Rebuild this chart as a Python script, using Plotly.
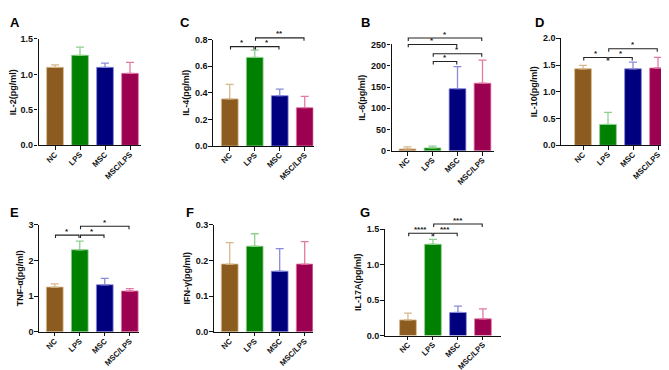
import plotly.graph_objects as go

W, H = 669, 370
groups = ["NC", "LPS", "MSC", "MSC/LPS"]
xpos = list(range(len(groups)))

il2_mean = [1.10, 1.27, 1.10, 1.015]
il2_err = [0.035, 0.115, 0.06, 0.155]
il4_mean = [0.354, 0.666, 0.378, 0.288]
il4_err = [0.109, 0.054, 0.049, 0.085]
il6_mean = [4.5, 7.0, 146.0, 159.0]
il6_err = [5.0, 4.0, 52.0, 54.0]
il10_mean = [1.43, 0.39, 1.43, 1.445]
il10_err = [0.065, 0.225, 0.125, 0.2]
tnf_mean = [1.255, 2.30, 1.32, 1.145]
tnf_err = [0.09, 0.245, 0.18, 0.065]
ifn_mean = [0.19, 0.24, 0.17, 0.19]
ifn_err = [0.06, 0.035, 0.063, 0.063]
il17_mean = [0.22, 1.285, 0.325, 0.235]
il17_err = [0.095, 0.07, 0.09, 0.14]

il2_ticks = [0, 0.5, 1.0, 1.5]
il4_ticks = [0, 0.2, 0.4, 0.6, 0.8]
il6_ticks = [0, 50, 100, 150, 200, 250]
il10_ticks = [0, 0.5, 1.0, 1.5, 2.0]
tnf_ticks = [0, 1, 2, 3]
ifn_ticks = [0, 0.1, 0.2, 0.3]
il17_ticks = [0, 0.5, 1.0, 1.5]

il2_sig = []
il4_sig = [(0, 1, 0.747, "*"), (1, 2, 0.747, "*"), (1, 3, 0.813, "**")]
il6_sig = [(0, 3, 265, "*"), (0, 2, 250, "*"), (1, 3, 228, "*"), (1, 2, 210, "*")]
il10_sig = [(0, 1, 1.64, "*"), (1, 2, 1.64, "*"), (1, 3, 1.805, "*")]
tnf_sig = [(0, 1, 2.71, "*"), (1, 2, 2.71, "*"), (1, 3, 2.96, "*")]
ifn_sig = []
il17_sig = [(0, 1, 1.44, "****"), (1, 2, 1.44, "***"), (1, 3, 1.57, "***")]

fill = ["#8B5B1F", "#008000", "#00007F", "#9C0050"]
light = ["#D8B98C", "#8FD08F", "#8A8ADA", "#E27AA6"]

FONT = "Liberation Sans, Arial, sans-serif"

# layout geometry per panel (pixels)
panels = [
    dict(letter="A", title="IL-2(pg/ml)", mean=il2_mean, err=il2_err, ticks=il2_ticks, fmt=".1f", sig=il2_sig,
         left=30.5, y0=136, ymp=26.7, xlo=-0.66, xhi=3.42, lx=0, ly=0),
    dict(letter="C", title="IL-4(pg/ml)", mean=il4_mean, err=il4_err, ticks=il4_ticks, fmt=".1f", sig=il4_sig,
         left=205, y0=136.7, ymp=27.3, xlo=-0.67, xhi=3.35, lx=170, ly=0),
    dict(letter="B", title="IL-6(pg/ml)", mean=il6_mean, err=il6_err, ticks=il6_ticks, fmt="d", sig=il6_sig,
         left=383.5, y0=141.7, ymp=32.3, xlo=-0.64, xhi=3.47, lx=351, ly=0),
    dict(letter="D", title="IL-10(pg/ml)", mean=il10_mean, err=il10_err, ticks=il10_ticks, fmt=".1f", sig=il10_sig,
         left=553, y0=136, ymp=26, xlo=-0.88, xhi=3.75, lx=525, ly=0),
    dict(letter="E", title="TNF-α(pg/ml)", mean=tnf_mean, err=tnf_err, ticks=tnf_ticks, fmt="d", sig=tnf_sig,
         left=31, y0=327.7, ymp=217.7, xlo=-0.63, xhi=3.38, lx=0, ly=195),
    dict(letter="F", title="IFN-γ(pg/ml)", mean=ifn_mean, err=ifn_err, ticks=ifn_ticks, fmt=".1f", sig=ifn_sig,
         left=205.7, y0=327.7, ymp=217.7, xlo=-0.64, xhi=3.32, lx=176, ly=195),
    dict(letter="G", title="IL-17A(pg/ml)", mean=il17_mean, err=il17_err, ticks=il17_ticks, fmt=".1f", sig=il17_sig,
         left=376.7, y0=331.5, ymp=222, xlo=-0.93, xhi=3.73, lx=350, ly=195),
]

PX_PER_CAT = 25.0

fig = go.Figure()
layout = dict(width=W, height=H, margin=dict(l=0, r=0, t=0, b=0),
              paper_bgcolor="white", plot_bgcolor="white", barmode="overlay",
              showlegend=False, font=dict(family=FONT, color="#111111"))
shapes = []
annotations = []

for n, p in enumerate(panels):
    sfx = "" if n == 0 else str(n + 1)
    xn, yn = "x" + sfx, "y" + sfx
    ymax = p["ticks"][-1]
    right = p["left"] + (p["xhi"] - p["xlo"]) * PX_PER_CAT
    layout["xaxis" + sfx] = dict(
        domain=[p["left"] / W, min(right / W, 1.0)], anchor=yn, range=[p["xlo"], p["xhi"]],
        tickmode="array", tickvals=xpos, ticktext=groups, tickangle=-45,
        tickfont=dict(family=FONT, size=7.8, weight="bold", color="#111111"),
        showline=True, linecolor="#111111", linewidth=1.3, ticks="outside", ticklen=3.5,
        tickwidth=1.3, tickcolor="#111111", ticklabelstandoff=-3,
        showgrid=False, zeroline=False, fixedrange=True)
    layout["yaxis" + sfx] = dict(
        domain=[1 - p["y0"] / H, 1 - p["ymp"] / H], anchor=xn, range=[0, ymax],
        tickmode="array", tickvals=p["ticks"], tickformat=p["fmt"],
        tickfont=dict(family=FONT, size=9, weight="bold", color="#111111"),
        showline=True, linecolor="#111111", linewidth=1.3,
        ticks="outside", ticklen=3.5, tickwidth=1.3, tickcolor="#111111",
        ticklabelstandoff=-1, showgrid=False, zeroline=False, fixedrange=True,
        title=dict(text=p["title"], standoff=3,
                   font=dict(family=FONT, size=9, weight="bold", color="#111111")))
    for k in xpos:
        fig.add_trace(go.Bar(
            x=[xpos[k]], y=[p["mean"][k]], width=0.67, xaxis=xn, yaxis=yn,
            marker=dict(color=fill[k], line=dict(color=light[k], width=0.8)),
            error_y=dict(type="data", symmetric=False, array=[p["err"][k]], arrayminus=[0],
                         color=light[k], thickness=1.3, width=4),
            showlegend=False, hoverinfo="skip"))
    # significance brackets (may sit above the top tick, so use the y-domain reference)
    leg = 3.0 / (p["y0"] - p["ymp"])
    for (i, j, yv, lab) in p["sig"]:
        a, b = i + 0.03, j - 0.03
        f = yv / ymax
        shapes.append(dict(type="path", xref=xn, yref=yn + " domain",
                           path=f"M {a},{f - leg} L {a},{f} L {b},{f} L {b},{f - leg}",
                           line=dict(color="#222222", width=1.1)))
        annotations.append(dict(x=(i + j) / 2, y=f, xref=xn, yref=yn + " domain", text=lab,
                                showarrow=False, xanchor="center", yanchor="middle", yshift=4,
                                font=dict(family=FONT, size=8, weight="bold", color="#222222")))
    annotations.append(dict(x=p["lx"] / W, y=1 - p["ly"] / H, xref="paper", yref="paper",
                            text=p["letter"], showarrow=False, xanchor="left", yanchor="top",
                            font=dict(family=FONT, size=13, weight="bold", color="#000000")))

layout["shapes"] = shapes
layout["annotations"] = annotations
fig.update_layout(**layout)
fig.write_html("out.html")
